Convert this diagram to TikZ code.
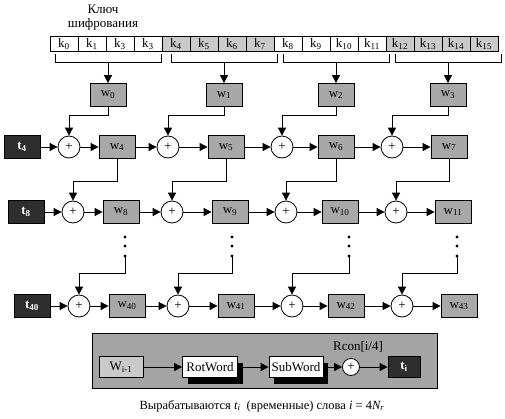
\documentclass[tikz,border=0pt]{standalone}
\usepackage{fontspec}
\setmainfont{Liberation Serif}
\usetikzlibrary{arrows.meta,shadows}
\definecolor{wgray}{HTML}{A8A8A8}
\definecolor{kgray}{HTML}{CACACA}
\definecolor{tdark}{HTML}{2E2E2E}
\definecolor{pgray}{HTML}{A4A4A4}
\tikzset{
  cell/.style={draw,minimum width=28pt,minimum height=15pt,inner sep=0pt},
  wbox/.style={draw,fill=wgray,minimum width=36pt,minimum height=23pt,inner sep=0pt},
  tbox/.style={draw,fill=tdark,text=white,font=\fontsize{13}{14}\selectfont\bfseries,minimum width=36pt,minimum height=23pt,inner sep=0pt},
  plus/.style={draw,circle,fill=white,minimum size=22pt,inner sep=0pt},
  fl/.style={-{Triangle[length=8pt,width=8pt]}},
  opbox/.style={draw,fill=white,minimum height=21pt,inner sep=2pt,
    drop shadow={fill=black,opacity=1,shadow xshift=5pt,shadow yshift=-6pt}},
}
\begin{document}
\begin{tikzpicture}[x=1pt,y=-1pt,line width=0.8pt,font=\fontsize{13}{14}\selectfont]
  \useasboundingbox (0,0) rectangle (505,418);
  \node[align=center] (cle) at (103,18) {Ключ\\шифрования};
  % cles k0..k15
  \foreach \i/\n in {0/0,1/1,2/3,3/3,4/4,5/5,6/6,7/7,8/8,9/9,10/10,11/11,12/12,13/13,14/14,15/15}{
    \pgfmathtruncatemacro\g{mod(int(\i/4),2)}
    \ifnum\g=1 \def\kc{kgray}\else\def\kc{white}\fi
    \node[cell,fill=\kc] (k\i) at ({64+28*\i},44) {k\textsubscript{\n}};
  }
  % accolades et mots w0..w3
  \foreach \c/\x in {0/108,1/224,2/336,3/448}{
    \draw (\x-53,54) -- (\x-53,62) -- (\x+53,62) -- (\x+53,54);
    \coordinate (b\c) at (\x,62);
    \node[wbox] (wt\c) at (\x,95) {w\textsubscript{\c}};
    \draw[fl] (b\c) -- (wt\c.north);
  }
  % trois lignes de mots
  \foreach \r/\y/\o/\tn in {1/147/0/4,2/212/4/8,3/306/10/40}{
    \node[tbox] (t\r) at (22+\o,\y) {t\textsubscript{\tn}};
    \foreach \c/\px/\wx in {0/69/117,1/168/226,2/282/336,3/392/449}{
      \pgfmathtruncatemacro\wn{\tn+\c}
      \node[plus] (p\r\c) at (\px+\o,\y) {+};
      \node[wbox] (w\r\c) at (\wx+\o,\y) {w\textsubscript{\wn}};
      \draw[fl] (p\r\c) -- (w\r\c);
    }
    \draw[fl] (t\r) -- (p\r0);
    \foreach \c/\d in {0/1,1/2,2/3} \draw[fl] (w\r\c) -- (p\r\d);
  }
  \foreach \c in {0,...,3}{
    \draw[fl] (wt\c.south) -- ++(0,8) -| (p1\c.north);
    \draw[fl] (w1\c.south) -- ++(0,22) -| (p2\c.north);
  }
  % pointilles
  \foreach \c/\x in {0/125,1/232,2/349,3/457}{
    \coordinate (d\c) at (\x,256);
    \foreach \dy in {0,-10,-19} \fill (\x,256+\dy) circle (1.6);
    \draw[fl] (d\c) -- ++(0,17) -| (p3\c.north);
  }
  % calcul de t_i
  \draw[fill=pgray] (92,333) rectangle (437,388);
  \node[draw,fill=kgray,minimum width=44pt,minimum height=21pt,inner sep=0pt] (wi) at (121,367) {W\textsubscript{i-1}};
  \node[opbox,minimum width=55pt] (rot) at (210,367) {RotWord};
  \node[opbox,minimum width=54pt] (sub) at (296,367) {SubWord};
  \node[plus,minimum size=17pt] (pc) at (351,367) {+};
  \node[tbox,minimum width=32pt,minimum height=21pt] (ti) at (404,367) {t\textsubscript{i}};
  \node (rcon) at (358,347) {Rcon[i/4]};
  \draw[fl] (wi) -- (rot);
  \draw[fl] (rot) -- (sub);
  \draw[fl] (sub) -- (pc);
  \draw[fl] (pc) -- (ti);
  \node[font=\fontsize{12.5}{14}\selectfont] (leg) at (262,406) {Вырабатываются \textit{t\textsubscript{i}} \ (временные) слова \textit{i} = 4\textit{N\textsubscript{r}}};
\end{tikzpicture}
\end{document}
